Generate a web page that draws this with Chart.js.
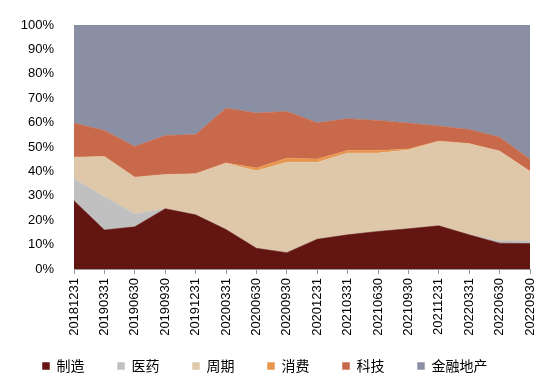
<!DOCTYPE html>
<html lang="zh">
<head>
    <meta charset="utf-8">
    <title>行业配置</title>
    <style>
        body{margin: 0;background: #fff;}
        .canvas-class {width: 544px;height: 384px;}
    </style>
    <script src="https://cdn.jsdelivr.net/npm/chart.js@4.4.1/dist/chart.umd.min.js"></script>
</head>
<body>
    <div class="canvas-class"><canvas id="areaChart"></canvas></div>
    <script>
        const labels = ['20181231','20190331','20190630','20190930','20191231','20200331','20200630','20200930',
                        '20201231','20210331','20210630','20210930','20211231','20220331','20220630','20220930'];
        const zhizao  = [28.0, 16.0, 17.3, 24.7, 22.2, 16.2, 8.5, 6.7, 12.2, 14.0, 15.4, 16.5, 17.7, 14.0, 10.6, 10.4];
        const yiyao   = [8.9, 13.6, 5.2, 0, 0, 0, 0, 0, 0, 0, 0, 0, 0, 0, 0.9, 1.1];
        const zhouqi  = [8.9, 16.5, 15.1, 14.0, 16.8, 27.1, 31.8, 37.0, 31.5, 33.5, 32.1, 32.3, 34.6, 37.3, 36.8, 28.5];
        const xiaofei = [0, 0, 0, 0, 0, 0.2, 1.1, 1.7, 1.4, 1.1, 1.1, 0.4, 0.2, 0.1, 0.1, 0.1];
        const keji    = [14.0, 10.7, 12.6, 16.0, 16.1, 22.4, 22.5, 19.2, 14.8, 13.0, 12.3, 10.6, 6.1, 5.8, 5.6, 4.9];
        const jinrong = [40.2, 43.2, 49.8, 45.3, 44.9, 34.1, 36.1, 35.4, 40.1, 38.4, 39.1, 40.2, 41.4, 42.8, 46.0, 55.0];

        function area(label, data, color, fill) {
            return {label: label, data: data, backgroundColor: color, borderColor: color,
                    borderWidth: 0.5, fill: fill, pointRadius: 0, tension: 0};
        }

        // the x labels hang below their (short) box, so widen the clip area used for them
        const labelRoom = {
            id: 'labelRoom',
            afterLayout(chart) { chart.scales.x.bottom = chart.height; }
        };

        new Chart(document.getElementById('areaChart').getContext('2d'), {
            type: 'line',
            data: {
                labels: labels,
                datasets: [
                    area('制造', zhizao, '#621511', 'origin'),
                    area('医药', yiyao, '#c0c0c0', '-1'),
                    area('周期', zhouqi, '#dfc8aa', '-1'),
                    area('消费', xiaofei, '#e8964f', '-1'),
                    area('科技', keji, '#c8694c', '-1'),
                    area('金融地产', jinrong, '#8a8fa4', '-1')
                ]
            },
            plugins: [labelRoom],
            options: {
                responsive: true,
                maintainAspectRatio: false,
                animation: false,
                layout: {padding: {left: 0, right: 14, top: 25, bottom: 1}},
                plugins: {
                    tooltip: {enabled: false},
                    legend: {
                        position: 'bottom',
                        labels: {
                            boxWidth: 7, boxHeight: 7, padding: 33, color: '#000',
                            font: {family: 'Noto Sans CJK SC', size: 14}
                        }
                    }
                },
                scales: {
                    x: {
                        grid: {display: true, drawOnChartArea: false, drawTicks: true, tickLength: 5, color: '#999'},
                        border: {display: true, color: '#999'},
                        ticks: {minRotation: 90, maxRotation: 90, autoSkip: false, padding: 4, color: '#000',
                                font: {family: 'Liberation Sans', size: 13}},
                        afterFit: function(scale) {
                            scale.height = 57;
                            scale.paddingLeft = 0;
                            scale.paddingRight = 0;
                        }
                    },
                    y: {
                        stacked: true,
                        min: 0, max: 100,
                        grid: {display: false},
                        border: {display: true, color: '#999'},
                        ticks: {stepSize: 10, padding: 12, color: '#000',
                                font: {family: 'Liberation Sans', size: 13},
                                callback: v => v + '%'},
                        afterFit: function(scale) { scale.width = 74; }
                    }
                }
            }
        });
    </script>
</body>
</html>
